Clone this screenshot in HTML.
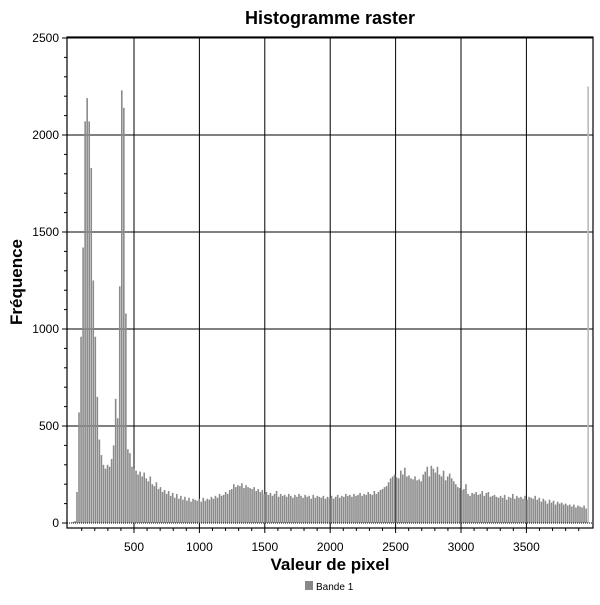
<!DOCTYPE html>
<html><head><meta charset="utf-8"><style>
body{margin:0;background:#fff;font-family:"Liberation Sans",sans-serif}
</style></head><body>
<svg id="chart" width="600" height="600" xmlns="http://www.w3.org/2000/svg" font-family="Liberation Sans, sans-serif">
<rect width="600" height="600" fill="#fff"/>
<text x="330" y="24" text-anchor="middle" font-size="18" font-weight="bold">Histogramme raster</text>
<text transform="translate(22,282) rotate(-90)" text-anchor="middle" font-size="17" font-weight="bold">Fréquence</text>
<text x="330" y="570" text-anchor="middle" font-size="17" font-weight="bold">Valeur de pixel</text>
<g id="grid"></g>
<g id="bars"></g>
<g id="axes"></g>
<rect x="305" y="581" width="8" height="9" fill="#888"/>
<text x="316" y="590" font-size="10">Bande 1</text>
</svg>
<script>
const values = [
0,0,5,10,160,570,960,1420,2070,2190,2070,1830,1250,960,650,430,
350,300,280,300,290,330,400,640,540,1220,2230,2140,1080,380,360,290,
280,270,250,265,240,260,230,215,240,200,190,210,175,185,160,170,
150,165,140,155,130,150,125,140,120,135,115,130,110,125,120,115,
125,110,130,115,125,120,135,125,140,130,150,140,145,160,150,170,
175,200,185,195,190,205,180,195,185,180,175,185,165,175,160,170,
150,160,145,155,140,150,165,135,150,140,145,135,150,140,130,145,
135,150,140,130,145,135,140,125,145,130,140,135,130,140,125,135,
130,140,125,135,145,130,140,135,150,140,145,135,150,140,145,155,
140,150,145,160,150,145,165,150,160,170,175,185,190,210,230,240,
250,235,230,270,250,285,240,245,230,225,240,220,225,215,250,265,
290,240,295,280,260,290,250,240,270,220,240,255,230,215,200,185,
180,170,175,200,150,140,155,150,160,145,150,165,140,155,160,135,
140,145,135,130,140,130,145,120,135,130,150,125,140,130,135,125,
140,120,135,130,125,140,120,130,110,125,115,100,120,105,115,95,
110,100,105,95,100,90,95,85,95,80,90,85,80,90,75,2250];
const binStart = -6;
const binWidth = 15.57;
const xTicks = [500,1000,1500,2000,2500,3000,3500];
const yTicks = [0,500,1000,1500,2000,2500];

const NS="http://www.w3.org/2000/svg";
const L=67,R=593,T=37,B=528;
const xs=v=>68.6+v*0.1308;
const ys=v=>523-v*0.194;
function mk(tag,attrs,parent){const e=document.createElementNS(NS,tag);for(const k in attrs)e.setAttribute(k,attrs[k]);parent.appendChild(e);return e;}
const grid=document.getElementById('grid'),bars=document.getElementById('bars'),axes=document.getElementById('axes');
xTicks.forEach(t=>{const l=mk('line',{x1:xs(t),x2:xs(t),y1:T,y2:B,stroke:'#000','stroke-width':1},grid);

});
yTicks.forEach(t=>{if(t===0)return;const l=mk('line',{x1:L,x2:R,y1:ys(t),y2:ys(t),stroke:'#000','stroke-width':1},grid);

});
values.forEach((v,i)=>{const c=binStart+binWidth*(i+0.5);const x=xs(c)-0.8;
const r=mk('rect',{x:x,y:ys(v),width:1.6,height:Math.max(0,ys(0)-ys(v)),fill:i===values.length-1?'#bbb':'#8a8a8a'},bars);

});
mk('line',{x1:L,x2:R,y1:523,y2:523,stroke:'#000','stroke-width':1,'stroke-dasharray':'1,1'},axes);
const fr=mk('rect',{x:L,y:T,width:R-L,height:B-T,fill:'none',stroke:'#000','stroke-width':1.2},axes);


for(let v=100;v<4000;v+=100){mk('line',{x1:xs(v),x2:xs(v),y1:B,y2:B+(v%500===0?5:3),stroke:'#000'},axes);}
for(let v=0;v<=2500;v+=100){mk('line',{x1:L-(v%500===0?5:3),x2:L,y1:ys(v),y2:ys(v),stroke:'#000'},axes);}
xTicks.forEach(t=>{const tx=mk('text',{x:xs(t),y:551,'text-anchor':'middle','font-size':12},axes);tx.textContent=t;

});
yTicks.forEach(t=>{const tx=mk('text',{x:L-8,y:ys(t)+4,'text-anchor':'end','font-size':12},axes);tx.textContent=t;

});
</script>
</body></html>
